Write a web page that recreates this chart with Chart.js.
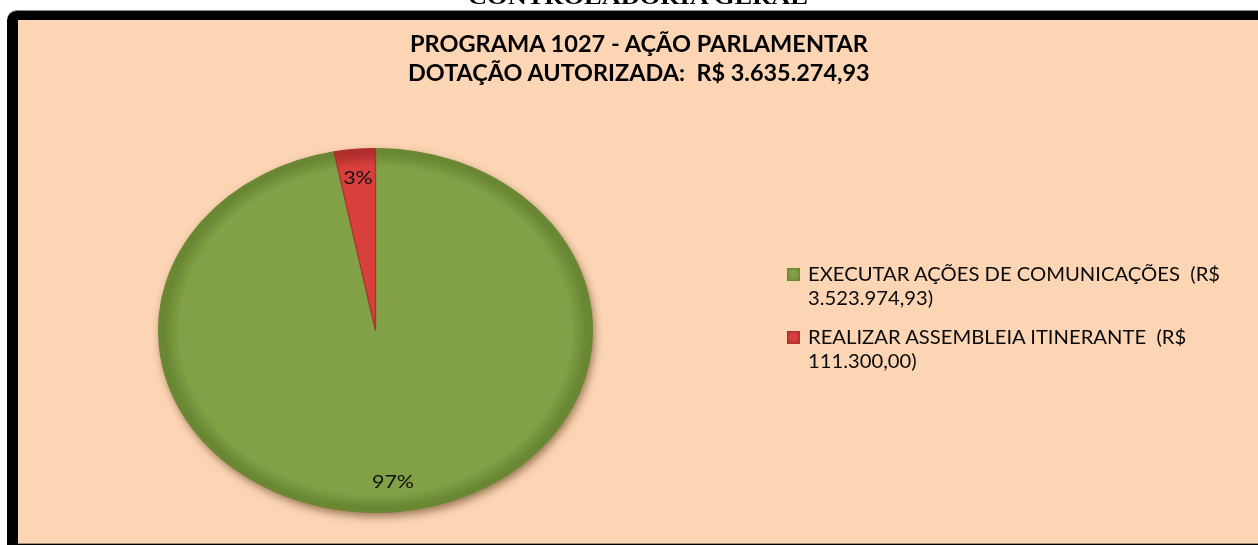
<!DOCTYPE html>
<html>
<head>
<meta charset="utf-8">
<script src="https://cdn.jsdelivr.net/npm/chart.js@4.4.1/dist/chart.umd.min.js"></script>
<style>
  html, body { margin:0; padding:0; background:#fff; width:1258px; height:545px; overflow:hidden; }
  body { position:relative; font-family: Lato, "Open Sans", sans-serif; }
  #frame { position:absolute; left:7px; top:10px; width:1300px; height:535px; background:#000;
           border-top:1px solid #8a8a8a; border-top-left-radius:10px; box-sizing:border-box; }
  #inner { position:absolute; left:11px; top:9px; right:0; bottom:1px; background:#FCD5B4; border-bottom:1px solid #a08c78; }
  #chart { position:absolute; left:0; top:0; }
  .t { position:absolute; white-space:pre; transform-origin:0 0; color:#000; }
  .hdr { font-family:"Liberation Serif", "Times New Roman", serif; font-weight:bold; font-size:22px; line-height:1.107; }
  .ttl { font-weight:bold; font-size:22px; line-height:1.2; }
  .lg  { font-size:19px; line-height:1.2; color:#0a0a0a; }
  .sw  { position:absolute; width:13px; height:13px; box-sizing:border-box; }
</style>
</head>
<body>
<div id="frame"><div id="inner"></div></div>
<canvas id="chart" width="1258" height="545"></canvas>
<div id="texts"></div>
<script>
// ---------- data ----------
const headerText = 'CONTROLADORIA GERAL';
const titleLines = ['PROGRAMA 1027 - AÇÃO PARLAMENTAR', 'DOTAÇÃO AUTORIZADA:  R$ '];
const categories = ['EXECUTAR AÇÕES DE COMUNICAÇÕES', 'REALIZAR ASSEMBLEIA ITINERANTE'];
const values = [3523974.93, 111300.00];
const colors = ['#82A046', '#D8403E'];
const edgeColors = ['#6A8734', '#B02F2C'];

// ---------- helpers ----------
function brl(v) {
  const parts = v.toFixed(2).split('.');
  return parts[0].replace(/\B(?=(\d{3})+(?!\d))/g, '.') + ',' + parts[1];
}
const total = values.reduce((a, b) => a + b, 0);
const SX = 1.192;              // horizontal stretch of the picture
const LABEL_R = 0.84;

// ---------- texts (HTML) ----------
const texts = document.getElementById('texts');
function addText(cls, str, left, baseline, ascent, fs) {
  const d = document.createElement('div');
  d.className = 't ' + cls;
  d.textContent = str;
  d.style.left = left + 'px';
  d.style.top = (baseline - ascent * fs) + 'px';
  texts.appendChild(d);
  return d;
}
const fitList = [];
fitList.push([addText('hdr', headerText, 468, 5, 0.891, 22), 340]);
fitList.push([addText('ttl', titleLines[0], 410, 53, 0.987, 22), 458]);
fitList.push([addText('ttl', titleLines[1] + brl(total), 408, 82, 0.987, 22), 462]);

const legendEls = [];
categories.forEach((c, i) => {
  const base = 282 + i * 63;
  const sw = document.createElement('div');
  sw.className = 'sw';
  sw.style.left = '787px';
  sw.style.top = (base - 14) + 'px';
  sw.style.background = `radial-gradient(circle at 50% 45%, ${colors[i]} 35%, ${edgeColors[i]} 100%)`;
  sw.style.border = '1px solid ' + edgeColors[i];
  texts.appendChild(sw);
  legendEls.push(addText('lg', c + '  (R$', 808, base, 0.987, 19));
  legendEls.push(addText('lg', brl(values[i]) + ')', 808, base + 23.5, 0.987, 19));
});

function fit() {
  fitList.forEach(([el, w]) => { el.style.transform = `scaleX(${w / el.offsetWidth})`; });
  const s = 412 / legendEls[0].offsetWidth;
  legendEls.forEach(el => { el.style.transform = `scaleX(${s})`; });
}
fit();
if (document.fonts && document.fonts.ready) document.fonts.ready.then(fit);

// ---------- chart ----------
const ellipsePlugin = {
  id: 'ellipse',
  beforeDatasetsDraw(chart) {
    const ctx = chart.ctx;
    const arc = chart.getDatasetMeta(0).data[0];
    const { x, y, outerRadius } = arc.getProps(['x', 'y', 'outerRadius'], true);
    ctx.save();
    ctx.translate(x, y);
    ctx.scale(SX, 1);
    ctx.translate(-x, -y);
    // soft drop shadow under the whole pie
    ctx.save();
    ctx.shadowColor = 'rgba(70,40,10,0.55)';
    ctx.shadowBlur = 9;
    ctx.shadowOffsetX = 2;
    ctx.shadowOffsetY = 4;
    ctx.beginPath();
    ctx.arc(x, y, outerRadius, 0, Math.PI * 2);
    ctx.fillStyle = colors[0];
    ctx.fill();
    ctx.restore();
  },
  afterDatasetsDraw(chart) {
    const ctx = chart.ctx;
    ctx.restore();
    const meta = chart.getDatasetMeta(0);
    meta.data.forEach((arc, i) => {
      const p = arc.getProps(['x', 'y', 'startAngle', 'endAngle', 'outerRadius'], true);
      const mid = (p.startAngle + p.endAngle) / 2;
      const r = p.outerRadius * LABEL_R;
      const lx = p.x + Math.cos(mid) * r * SX;
      const ly = p.y + Math.sin(mid) * r;
      const pct = Math.round(values[i] / total * 100) + '%';
      ctx.save();
      ctx.translate(lx, ly);
      ctx.scale(SX, 1);
      ctx.font = '18px Lato, "Open Sans", sans-serif';
      ctx.fillStyle = '#111';
      ctx.textAlign = 'center';
      ctx.textBaseline = 'middle';
      ctx.fillText(pct, 0, 0);
      ctx.restore();
    });
  }
};

function sliceFill(ctx) {
  const chart = ctx.chart;
  const i = ctx.dataIndex;
  const area = chart.chartArea;
  if (!area) return colors[i];
  const cx = (area.left + area.right) / 2, cy = (area.top + area.bottom) / 2;
  const r = Math.min(area.width, area.height) / 2;
  const g = chart.ctx.createRadialGradient(cx, cy, 0, cx, cy, r);
  g.addColorStop(0, colors[i]);
  g.addColorStop(0.9, colors[i]);
  g.addColorStop(0.97, edgeColors[i]);
  g.addColorStop(1, edgeColors[i]);
  return g;
}

new Chart(document.getElementById('chart'), {
  type: 'pie',
  data: {
    labels: categories,
    datasets: [{
      data: values,
      backgroundColor: sliceFill,
      borderColor: edgeColors,
      borderWidth: 1
    }]
  },
  options: {
    responsive: false,
    animation: false,
    devicePixelRatio: 1,
    rotation: 0,
    layout: { padding: { left: 193, top: 148, right: 700, bottom: 32 } },
    plugins: {
      legend: { display: false },
      title: { display: false },
      tooltip: { enabled: false }
    },
    events: []
  },
  plugins: [ellipsePlugin]
});
</script>
</body>
</html>
